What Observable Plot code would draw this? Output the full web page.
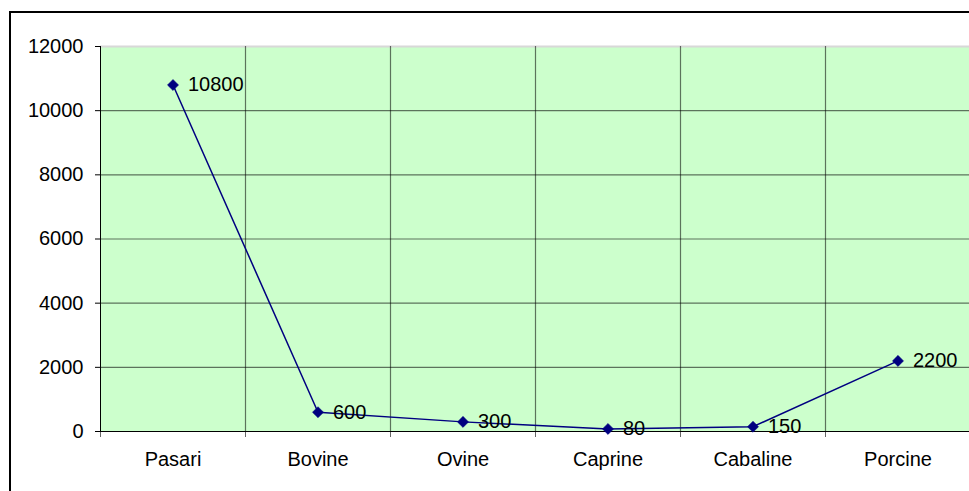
<!DOCTYPE html>
<html>
<head>
<meta charset="utf-8">
<script src="https://cdn.jsdelivr.net/npm/d3@7"></script>
<script src="https://cdn.jsdelivr.net/npm/@observablehq/plot@0.6"></script>
<style>
  html, body { margin: 0; padding: 0; background: #fff; overflow: hidden; }
  #wrap { position: relative; width: 969px; height: 491px; overflow: hidden; }
  #frame { position: absolute; left: 9px; top: 11px; width: 1000px; height: 520px; border: 2px solid #000; box-sizing: border-box; pointer-events: none; }
  svg { font-family: "Liberation Sans", Arial, sans-serif; }
</style>
</head>
<body>
<div id="wrap"></div>
<script>
const categories = ["Pasari", "Bovine", "Ovine", "Caprine", "Cabaline", "Porcine"];
const values = [10800, 600, 300, 80, 150, 2200];
const yTicks = [0, 2000, 4000, 6000, 8000, 10000, 12000];

const data = categories.map((c, i) => ({cat: c, pos: i + 0.5, value: values[i]}));
const centers = categories.map((c, i) => i + 0.5);
const boundaries = d3.range(categories.length + 1);
const innerBoundaries = boundaries.slice(1, -1);

const chart = Plot.plot({
  width: 969,
  height: 491,
  marginLeft: 100,
  marginRight: 0,
  marginTop: 46,
  marginBottom: 60,
  style: {background: "transparent", fontFamily: "'Liberation Sans', Arial, sans-serif", fontSize: "20px", color: "#000", overflow: "visible"},
  x: {domain: [0, categories.length], range: [100, 970], label: null},
  y: {domain: [0, 12000], ticks: yTicks, label: null},
  marks: [
    Plot.frame({fill: "#CCFFCC", stroke: null}),
    Plot.ruleY(yTicks.filter(t => t > 0 && t < 12000), {stroke: "#000", strokeOpacity: 0.55, strokeWidth: 1.2}),
    Plot.ruleY([12000], {stroke: "#d8d8d8", strokeWidth: 2}),
    Plot.ruleX(innerBoundaries, {y1: 0, y2: 12000, stroke: "#000", strokeOpacity: 0.55, strokeWidth: 1.2}),
    Plot.ruleX(boundaries, {y1: 0, y2: 0, insetBottom: -6, stroke: "#000", strokeOpacity: 0.6}),
    Plot.ruleX([0], {y1: 0, y2: 12000, stroke: "#000", strokeWidth: 1}),
    Plot.ruleY([0], {stroke: "#000", strokeWidth: 1.2}),
    Plot.axisY({ticks: yTicks, tickSize: 5, tickPadding: 12, tickFormat: d => String(d), fontSize: 20, label: null}),
    Plot.axisX({ticks: centers, tickSize: 0, tickPadding: 20, tickFormat: d => categories[Math.floor(d)], fontSize: 20, label: null}),
    Plot.line(data, {x: "pos", y: "value", stroke: "#000080", strokeWidth: 1.5}),
    Plot.dot(data, {x: "pos", y: "value", symbol: "diamond2", r: 5, fill: "#000080", stroke: "#000080", strokeWidth: 0.5}),
    Plot.text(data, {x: "pos", y: "value", text: d => String(d.value), textAnchor: "start", lineAnchor: "middle", dx: 15, fontSize: 20, fill: "#000"})
  ]
});

const wrap = document.getElementById("wrap");
wrap.appendChild(chart);
const frame = document.createElement("div");
frame.id = "frame";
wrap.appendChild(frame);
</script>
</body>
</html>
